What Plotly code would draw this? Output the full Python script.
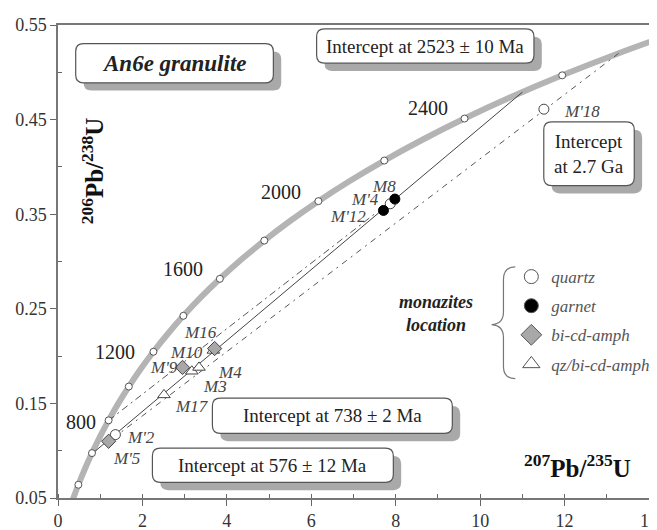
import plotly.graph_objects as go

# ---------------- data ----------------
# Concordia (age in Ma, 207Pb/235U, 206Pb/238U)
conc_age = [300, 400, 500, 600, 700, 800, 900, 1000, 1100, 1200, 1300, 1400, 1500,
            1600, 1700, 1800, 1900, 2000, 2100, 2200, 2300, 2400, 2500, 2600, 2700, 2800]
conc_pb207 = [0.3437, 0.4828, 0.6363, 0.8056, 0.9925, 1.1987, 1.4263, 1.6774, 1.9545,
              2.2603, 2.5977, 2.9701, 3.3810, 3.8344, 4.3348, 4.8869, 5.4962, 6.1685,
              6.9105, 7.7292, 8.6326, 9.6296, 10.7297, 11.9437, 13.2834, 14.7617]
conc_pb206 = [0.0476, 0.0640, 0.0807, 0.0975, 0.1147, 0.1321, 0.1498, 0.1678, 0.1861,
              0.2046, 0.2234, 0.2426, 0.2620, 0.2817, 0.3018, 0.3221, 0.3428, 0.3638,
              0.3851, 0.4067, 0.4287, 0.4511, 0.4738, 0.4968, 0.5202, 0.5440]
tick_ages = [400, 600, 800, 1000, 1200, 1400, 1600, 1800, 2000, 2200, 2400, 2600]
labelled_ages = [800, 1200, 1600, 2000, 2400]

# Discordia lines (end points)
solid_x = [0.80, 11.00]
solid_y = [0.0965, 0.479]
upper_x = [1.20, 7.55]
upper_y = [0.132, 0.352]
lower_x = [1.30, 13.28]
lower_y = [0.113, 0.520]

# Monazite analyses
quartz_names = ["M'2", "M'4", "M'18"]
quartz_x = [1.36, 7.87, 11.51]
quartz_y = [0.117, 0.361, 0.461]
garnet_names = ["M8", "M'12"]
garnet_x = [7.98, 7.71]
garnet_y = [0.366, 0.354]
bicd_names = ["M'5", "M'9", "M16"]
bicd_x = [1.20, 2.95, 3.71]
bicd_y = [0.110, 0.188, 0.208]
qzbicd_names = ["M10", "M3", "M4", "M17"]
qzbicd_x = [3.68, 3.17, 3.34, 2.51]
qzbicd_y = [0.206, 0.184, 0.188, 0.159]

x_ticks = [0, 2, 4, 6, 8, 10, 12, 14]
y_ticks = [0.05, 0.15, 0.25, 0.35, 0.45, 0.55]

# ---------------- layout helpers ----------------
W, H = 657, 530
L, R, T, B = 49, 650, 16, 499
XR, YR = [0, 14], [0.05, 0.55]
SERIF = "Liberation Serif, Times New Roman, serif"

# label offsets (pixels) for sample labels and concordia age labels
label_shift = {"M'2": (26, -3), "M'4": (-25, 4), "M'18": (38, -2), "M8": (-11, 13),
               "M'12": (-35, -6), "M'5": (18, -17), "M'9": (-19, 0), "M16": (-14, 16),
               "M10": (-27, -2), "M3": (23, -15), "M4": (31, -5), "M17": (28, -12)}
age_shift = {800: (-28, -2), 1200: (-38, 0), 1600: (-37, 10), 2000: (-37, 9), 2400: (-37, 11)}


def dx(px):
    return XR[0] + (px - L) / (R - L) * (XR[1] - XR[0])


def dy(py):
    return YR[0] + (B - py) / (B - T) * (YR[1] - YR[0])


def P(px, py):
    return f"{dx(px):.5f},{dy(py):.6f}"


def rbox(x0, y0, x1, y1, r=8):
    return (f"M{P(x0 + r, y0)} L{P(x1 - r, y0)} Q{P(x1, y0)} {P(x1, y0 + r)} "
            f"L{P(x1, y1 - r)} Q{P(x1, y1)} {P(x1 - r, y1)} L{P(x0 + r, y1)} "
            f"Q{P(x0, y1)} {P(x0, y1 - r)} L{P(x0, y0 + r)} Q{P(x0, y0)} {P(x0 + r, y0)} Z")


fig = go.Figure()

# concordia
fig.add_trace(go.Scatter(x=conc_pb207, y=conc_pb206, mode="lines", line_shape="spline",
                         line=dict(color="#b4b4b4", width=6), showlegend=False,
                         hoverinfo="skip"))

# discordia lines
fig.add_trace(go.Scatter(x=upper_x, y=upper_y, mode="lines",
                         line=dict(color="#555", width=1, dash="7px,4px,2px,4px"),
                         showlegend=False))
fig.add_trace(go.Scatter(x=lower_x, y=lower_y, mode="lines",
                         line=dict(color="#555", width=1, dash="6px,5px,2px,5px"),
                         showlegend=False))
fig.add_trace(go.Scatter(x=solid_x, y=solid_y, mode="lines",
                         line=dict(color="#444", width=1), showlegend=False))

# age ticks on concordia
ti = [conc_age.index(a) for a in tick_ages]
fig.add_trace(go.Scatter(x=[conc_pb207[i] for i in ti], y=[conc_pb206[i] for i in ti],
                         mode="markers", showlegend=False,
                         marker=dict(symbol="circle", size=7, color="white",
                                     line=dict(color="#555", width=1))))

# data
mk_line = dict(color="#444", width=1)
fig.add_trace(go.Scatter(x=quartz_x, y=quartz_y, mode="markers", showlegend=False,
                         text=quartz_names,
                         marker=dict(symbol="circle", size=10, color="white", line=mk_line)))
fig.add_trace(go.Scatter(x=qzbicd_x, y=qzbicd_y, mode="markers", showlegend=False,
                         text=qzbicd_names,
                         marker=dict(symbol="triangle-up", size=11, color="white", line=mk_line)))
fig.add_trace(go.Scatter(x=bicd_x, y=bicd_y, mode="markers", showlegend=False,
                         text=bicd_names,
                         marker=dict(symbol="diamond", size=11, color="#a8a8a8", line=mk_line)))
fig.add_trace(go.Scatter(x=garnet_x, y=garnet_y, mode="markers", showlegend=False,
                         text=garnet_names,
                         marker=dict(symbol="circle", size=10, color="black",
                                     line=dict(color="black", width=1))))

# legend-only entries
leg = [("quartz", "circle", "white", 14), ("garnet", "circle", "black", 14),
       ("bi-cd-amph", "diamond", "#a8a8a8", 16), ("qz/bi-cd-amph", "triangle-up", "white", 15)]
for i, (nm, sym, col, sz) in enumerate(leg):
    fig.add_trace(go.Scatter(x=[None], y=[None], mode="markers", name=nm,
                             legendgroup=f"g{i}",
                             marker=dict(symbol=sym, size=sz, color=col,
                                         line=dict(color="#555", width=1))))

ann = []
# sample labels
for names, xs, ys in [(quartz_names, quartz_x, quartz_y), (garnet_names, garnet_x, garnet_y),
                      (bicd_names, bicd_x, bicd_y), (qzbicd_names, qzbicd_x, qzbicd_y)]:
    for n, x, y in zip(names, xs, ys):
        sx, sy = label_shift[n]
        ann.append(dict(x=x, y=y, xref="x", yref="y", text=n, showarrow=False,
                        xshift=sx, yshift=sy,
                        font=dict(family=SERIF, size=17, color="#444", style="italic")))
# age labels
for a in labelled_ages:
    i = conc_age.index(a)
    sx, sy = age_shift[a]
    ann.append(dict(x=conc_pb207[i], y=conc_pb206[i], xref="x", yref="y", text=str(a),
                    showarrow=False, xshift=sx, yshift=sy,
                    font=dict(family=SERIF, size=20, color="#222")))

shapes = []
boxes = [((67, 35, 268, 75), "An6e granulite", dict(size=23, weight="bold", style="italic")),
         ((312, 20, 533, 55), "Intercept at 2523 ± 10 Ma", dict(size=19)),
         ((543, 115, 635, 180), "Intercept<br>at 2.7 Ga", dict(size=19)),
         ((206, 397, 450, 433), "Intercept at 738 ± 2 Ma", dict(size=19)),
         ((145, 448, 390, 483), "Intercept at 576 ± 12 Ma", dict(size=19))]
for (x0, y0, x1, y1), txt, f in boxes:
    shapes.append(dict(type="path", xref="x", yref="y", path=rbox(x0 + 8, y0 + 8, x1 + 8, y1 + 8),
                       fillcolor="#a9a9a9", line=dict(width=0), layer="above"))
    shapes.append(dict(type="path", xref="x", yref="y", path=rbox(x0, y0, x1, y1),
                       fillcolor="white", line=dict(color="#555", width=1.2), layer="above"))
    ann.append(dict(x=dx((x0 + x1) / 2), y=dy((y0 + y1) / 2), xref="x", yref="y", text=txt,
                    showarrow=False, font=dict(family=SERIF, color="#222", **f)))

# legend brace
brace = (f"M{P(514, 263)} Q{P(502, 263)} {P(502, 276)} L{P(502, 309)} "
         f"Q{P(502, 321)} {P(490, 322)} Q{P(502, 323)} {P(502, 335)} "
         f"L{P(502, 365)} Q{P(502, 377)} {P(514, 377)}")
shapes.append(dict(type="path", xref="x", yref="y", path=brace,
                   line=dict(color="#777", width=1.2), layer="above"))
ann.append(dict(x=dx(433), y=dy(311), xref="x", yref="y",
                text="monazites<br>location", showarrow=False,
                font=dict(family=SERIF, size=18, color="#222", weight="bold", style="italic")))

# axis titles
ann.append(dict(x=dx(84), y=dy(165), xref="x", yref="y", textangle=-90, showarrow=False,
                text="<sup>206</sup>Pb/<sup>238</sup>U",
                font=dict(family=SERIF, size=25, color="#111", weight="bold")))
ann.append(dict(x=dx(577), y=dy(466), xref="x", yref="y", showarrow=False,
                text="<sup>207</sup>Pb/<sup>235</sup>U",
                font=dict(family=SERIF, size=25, color="#111", weight="bold")))

axis_common = dict(showgrid=False, zeroline=False, showline=True, linecolor="#777",
                   linewidth=1.5, mirror=True, ticks="outside", ticklen=6, tickwidth=1.2,
                   tickcolor="#666", ticklabeloverflow="allow",
                   tickfont=dict(family=SERIF, size=18, color="#333"))

fig.update_layout(
    width=W, height=H, margin=dict(l=L, r=W - R, t=T, b=H - B),
    paper_bgcolor="white", plot_bgcolor="white",
    xaxis=dict(range=XR, tickvals=x_ticks, ticktext=[str(v) for v in x_ticks],
               minor=dict(dtick=1, ticks="inside", ticklen=4, tickcolor="#666"),
               **axis_common),
    yaxis=dict(range=YR, tickvals=y_ticks, ticktext=[f"{v:.2f}" for v in y_ticks],
               minor=dict(tickvals=[0.1, 0.2, 0.3, 0.4, 0.5], ticks="inside", ticklen=4,
                          tickcolor="#666"),
               **axis_common),
    showlegend=True,
    legend=dict(x=(510 - L) / (R - L), y=(B - 255) / (B - T), xanchor="left", yanchor="top",
                bgcolor="rgba(0,0,0,0)", traceorder="grouped", tracegroupgap=4,
                itemwidth=30,
                font=dict(family=SERIF, size=17, color="#555", style="italic")),
    shapes=shapes, annotations=ann,
)

fig.write_html("out.html")
